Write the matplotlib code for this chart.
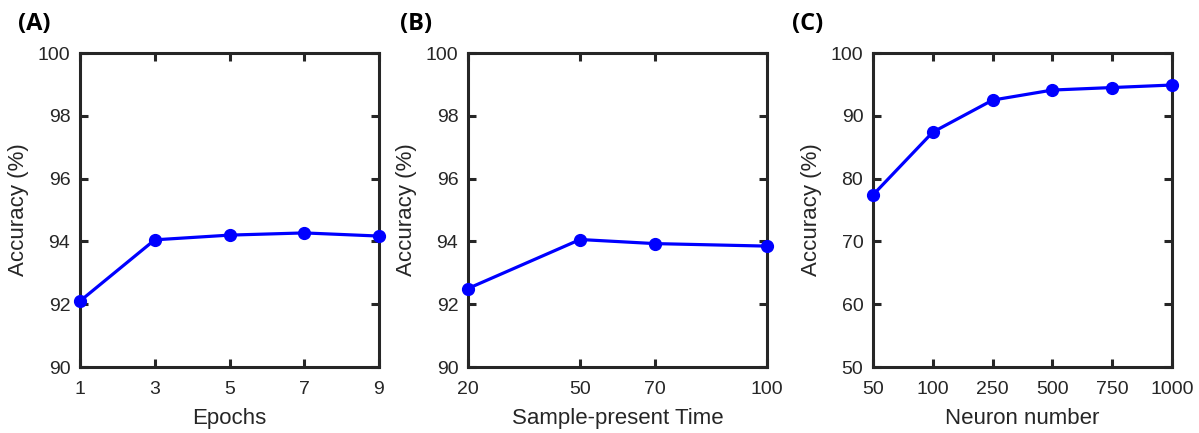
import matplotlib
matplotlib.use("Agg")
import matplotlib.pyplot as plt

# Data
epochs = [1, 3, 5, 7, 9]
acc_epochs = [92.1, 94.05, 94.2, 94.27, 94.17]

sample_time = [20, 50, 70, 100]
acc_time = [92.5, 94.06, 93.93, 93.85]

neuron_labels = ["50", "100", "250", "500", "750", "1000"]
acc_neuron = [77.4, 87.4, 92.5, 94.1, 94.5, 94.9]

plt.rcParams['font.family'] = ['Liberation Sans', 'DejaVu Sans']

fig = plt.figure(figsize=(11.99, 4.33), dpi=100)
W, H = 1199, 433
dark = '#262626'

def make_ax(left_px):
    ax = fig.add_axes([left_px / W, (H - 367) / H, 299 / W, 314 / H])
    for s in ax.spines.values():
        s.set_linewidth(2.2)
        s.set_color(dark)
    ax.tick_params(direction='in', top=True, right=True, length=6, width=2.2,
                   color=dark, labelcolor=dark, labelsize=14)
    ax.tick_params(axis='x', pad=10)
    ax.tick_params(axis='y', pad=7)
    return ax

line_kw = dict(color='#0000FF', linewidth=2.3, marker='o', markersize=8.5, clip_on=False, zorder=5)

# Panel A
ax1 = make_ax(80)
ax1.plot(epochs, acc_epochs, **line_kw)
ax1.set_xlim(1, 9)
ax1.set_ylim(90, 100)
ax1.set_xticks(epochs)
ax1.set_yticks([90, 92, 94, 96, 98, 100])
ax1.set_xlabel("Epochs", fontsize=16, color=dark, labelpad=7)
ax1.set_ylabel("Accuracy (%)", fontsize=16, color=dark, labelpad=6)

# Panel B
ax2 = make_ax(468)
ax2.plot(sample_time, acc_time, **line_kw)
ax2.set_xlim(20, 100)
ax2.set_ylim(90, 100)
ax2.set_xticks(sample_time)
ax2.set_yticks([90, 92, 94, 96, 98, 100])
ax2.set_xlabel("Sample-present Time", fontsize=16, color=dark, labelpad=7)
ax2.set_ylabel("Accuracy (%)", fontsize=16, color=dark, labelpad=6)

# Panel C
ax3 = make_ax(873)
xc = list(range(len(neuron_labels)))
ax3.plot(xc, acc_neuron, **line_kw)
ax3.set_xlim(0, len(neuron_labels) - 1)
ax3.set_ylim(50, 100)
ax3.set_xticks(xc)
ax3.set_xticklabels(neuron_labels)
ax3.set_yticks([50, 60, 70, 80, 90, 100])
ax3.set_xlabel("Neuron number", fontsize=16, color=dark, labelpad=7)
ax3.set_ylabel("Accuracy (%)", fontsize=16, color=dark, labelpad=6)

for x, lab in [(18, "(A)"), (400, "(B)"), (792, "(C)")]:
    fig.text(x / W, 1 - 24 / H, lab, fontsize=17, fontweight='bold',
             family=['Open Sans', 'DejaVu Sans'], va='center', ha='left', color='black')

fig.savefig("out.png", dpi=100, facecolor='white')
